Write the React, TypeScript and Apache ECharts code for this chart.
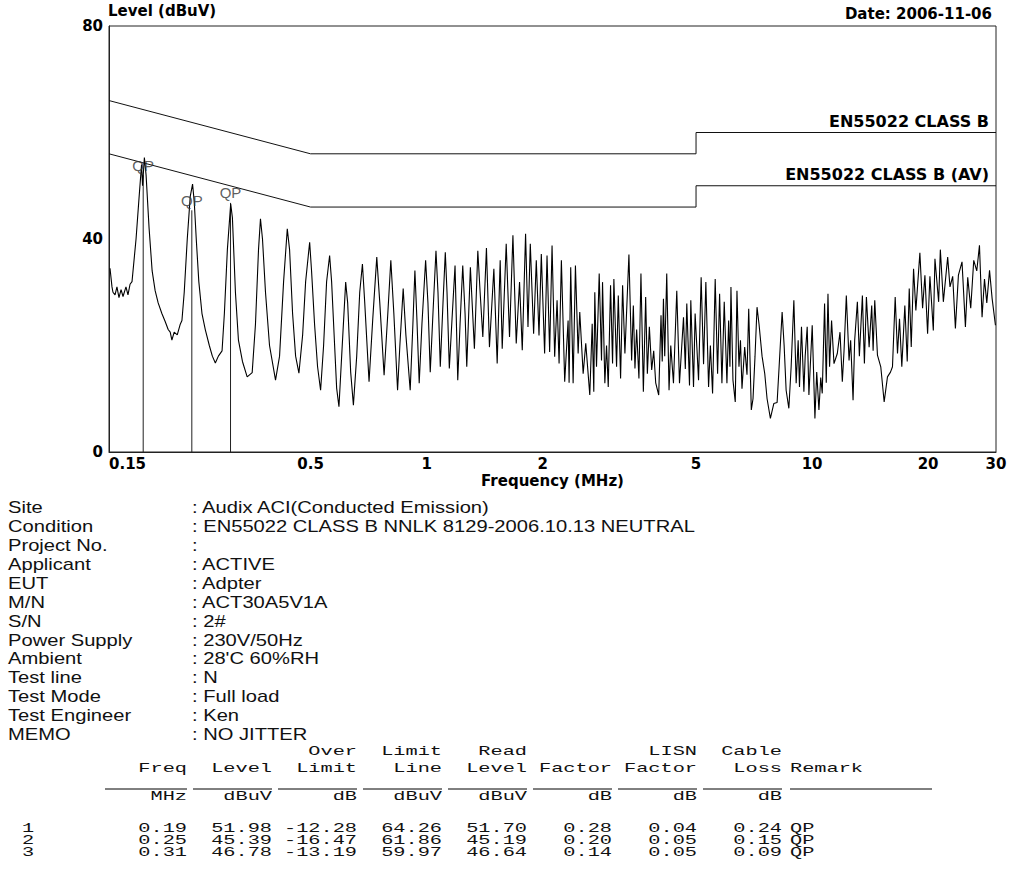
import React, { useEffect, useRef } from "react";
import * as echarts from "echarts";

// ---- measured trace (frequency MHz, level dBuV) ----
const traceFreq = [
  0.1509, 0.1527, 0.1536, 0.1555, 0.1573, 0.1592, 0.1612, 0.1631, 0.166, 0.168, 0.1701, 0.1721,
  0.1763, 0.1796, 0.1822, 0.1833, 0.1853, 0.1872, 0.1906, 0.1941, 0.1976, 0.2012, 0.2057, 0.2098,
  0.2136, 0.2162, 0.2184, 0.2214, 0.2255, 0.2296, 0.2319, 0.2351, 0.2394, 0.2437, 0.2471, 0.2496,
  0.2526, 0.2565, 0.2614, 0.2666, 0.2731, 0.2781, 0.2831, 0.2883, 0.2947, 0.2988, 0.3042, 0.3103,
  0.3135, 0.3192, 0.325, 0.3329, 0.3424, 0.3528, 0.3598, 0.3664, 0.3707, 0.3752, 0.382, 0.3913,
  0.4056, 0.4155, 0.4256, 0.4351, 0.4411, 0.4491, 0.4573, 0.4664, 0.4769, 0.4855, 0.4973, 0.503,
  0.5121, 0.5214, 0.5309, 0.5405, 0.5503, 0.5603, 0.567, 0.5773, 0.5843, 0.5924, 0.6021, 0.6167,
  0.6241, 0.6354, 0.6458, 0.6587, 0.6707, 0.6816, 0.6911, 0.7091, 0.725, 0.7426, 0.7561, 0.7758,
  0.7932, 0.8076, 0.8223, 0.8408, 0.8524, 0.8695, 0.8836, 0.9067, 0.9214, 0.9325, 0.9437, 0.9568,
  0.9725, 0.9942, 1.0081, 1.022, 1.0387, 1.0576, 1.0704, 1.0852, 1.1029, 1.1182, 1.1297, 1.1454,
  1.1641, 1.1852, 1.2045, 1.2212, 1.241, 1.2583, 1.2711, 1.2989, 1.3305, 1.3579, 1.3767, 1.3991,
  1.4297, 1.4556, 1.4945, 1.5244, 1.552, 1.5708, 1.6089, 1.641, 1.6747, 1.7082, 1.7423, 1.7708,
  1.8062, 1.8324, 1.8578, 1.8951, 1.9256, 1.957, 1.9842, 2.0238, 2.0531, 2.0854, 2.1157, 2.149,
  2.18, 2.2064, 2.2369, 2.2816, 2.3286, 2.3425, 2.3651, 2.3995, 2.4327, 2.4724, 2.4964, 2.5476,
  2.5876, 2.6506, 2.6888, 2.7148, 2.7311, 2.7591, 2.8039, 2.8431, 2.8602, 2.9, 2.9296, 2.9595,
  3.0006, 3.0368, 3.0607, 3.1105, 3.1425, 3.186, 3.2245, 3.2693, 3.3486, 3.4032, 3.438, 3.4712,
  3.5064, 3.5551, 3.5979, 3.6502, 3.7008, 3.7385, 3.7834, 3.8363, 3.8826, 3.9294, 4.0007, 4.0562,
  4.0856, 4.1154, 4.1473, 4.1973, 4.2555, 4.2992, 4.3695, 4.4566, 4.5292, 4.6392, 4.6897, 4.7314,
  4.8085, 4.8462, 4.9254, 4.9727, 5.0754, 5.1549, 5.2296, 5.3021, 5.3886, 5.4473, 5.5194, 5.6062,
  5.687, 5.7557, 5.8359, 5.9173, 6.0134, 6.0751, 6.1225, 6.1593, 6.2336, 6.3202, 6.3846, 6.4616,
  6.52, 6.5788, 6.686, 6.779, 6.8488, 6.956, 7.0273, 7.112, 7.1977, 7.2845, 7.417, 7.5379,
  7.6426, 7.7953, 7.9562, 8.1148, 8.2127, 8.3616, 8.4624, 8.5645, 8.7042, 8.8245, 8.9688, 9.0932,
  9.2028, 9.2755, 9.3866, 9.5227, 9.597, 9.7128, 9.8122, 10.008, 10.171, 10.281, 10.418, 10.531,
  10.626, 10.775, 10.884, 10.996, 11.102, 11.235, 11.398, 11.626, 11.816, 11.98, 12.103, 12.27,
  12.471, 12.591, 12.774, 12.897, 13.107, 13.265, 13.506, 13.669, 13.834, 14.06, 14.28, 14.4,
  14.541, 14.777, 15.073, 15.382, 15.688, 15.973, 16.165, 16.429, 16.657, 16.858, 17.092, 17.403,
  17.654, 17.867, 18.082, 18.334, 18.588, 19.039, 19.35, 19.62, 19.938, 20.216, 20.631, 20.832,
  21.297, 21.515, 21.905, 22.478, 22.792, 23.162, 23.539, 23.967, 24.489, 24.991, 25.338, 25.798,
  26.266, 26.743, 27.179, 27.605, 28.006, 28.395, 28.864, 29.316, 29.9,
];
const traceLevel = [
  34.5, 31, 30, 29.5, 31, 29, 30.5, 29.2, 31, 29.5, 31.5, 32,
  40, 48, 54, 50, 55.3, 52, 42, 34, 30.3, 28, 26, 24.5,
  23, 22.5, 21, 22.5, 22, 24, 24.7, 30, 40, 48, 50.3, 47,
  40, 32, 26, 23, 20, 18, 16.7, 18, 19, 26, 38, 46.6,
  44, 30, 21, 17, 14.1, 14.9, 24, 38, 43.8, 40, 30, 20,
  13.5, 18, 32, 41.9, 38, 26, 18, 14.8, 22, 32, 39.4, 34,
  24, 16, 11.6, 20, 32, 36.9, 32, 20, 12, 8.5, 18, 31.9,
  28, 15, 8.8, 18, 30, 35.3, 28, 13.2, 25, 36.6, 28, 14.4,
  26, 36, 26, 11.6, 20, 30.7, 22, 11.6, 24, 34.1, 25, 12.9,
  24, 36, 28, 15, 26, 37.8, 30, 16, 28, 37.5, 30, 15.7,
  25, 35, 13.5, 24, 35, 26, 16, 34.7, 19.4, 37.8, 30, 21.6,
  38.3, 19.7, 34.4, 16.6, 36, 19.4, 39.1, 21.6, 40.7, 20.4, 31.9, 19.1,
  41, 23.5, 39.1, 22.2, 36, 21.9, 37.2, 18.5, 36.9, 18.8, 38.8, 17.9,
  28.5, 16.6, 36, 13.2, 24.7, 13, 34.7, 12.9, 35, 18.5, 26.3, 14.7,
  20.4, 10.7, 24.1, 11.3, 30, 16, 33.5, 17.2, 31.9, 12.9, 20, 12.2,
  31.3, 16.6, 32.5, 16, 29.4, 13.8, 31.3, 18.5, 37.1, 17.2, 27.5, 15.7,
  23, 13.8, 33.5, 11.3, 29.1, 14.7, 23.5, 15.4, 19, 13, 10.7, 25.7,
  17, 28.8, 18, 33.5, 11.6, 20, 12.9, 30.3, 12.9, 25.3, 15.6, 27.9,
  12.5, 28.5, 12.2, 26, 13.5, 32.8, 16.5, 31.9, 12.2, 20, 11, 32.5,
  14.7, 29.7, 12.9, 28.2, 12.9, 24.7, 16, 31, 13.5, 9.4, 30.3, 16,
  21, 11.9, 19.7, 14.5, 26.9, 7.9, 10, 18, 27.2, 24, 18, 14.7,
  10, 6.3, 9.1, 9.3, 16, 26.3, 20, 11.6, 8.2, 16, 28.5, 12.9,
  21, 12.2, 23.5, 11.3, 18, 23.5, 10.7, 23.8, 6.3, 15, 7.9, 14,
  11, 27.9, 13, 29.7, 16, 24.7, 16.6, 18.5, 22.5, 13.2, 19, 29.4,
  17.2, 21, 9.7, 21, 28.2, 18, 29.4, 16.6, 29.1, 19.7, 27.5, 19,
  28.5, 18.2, 16, 9.4, 14.1, 15, 16, 29.1, 18.5, 25, 16, 27.5,
  17, 30.7, 19.7, 34.4, 26.6, 37.4, 27, 33.2, 22.2, 33, 22.8, 36.3,
  28.2, 38, 28.2, 36.6, 31, 33, 23.2, 33.2, 35.7, 23.5, 32.8, 27,
  36, 34, 38.8, 25.3, 32.5, 28, 34.1, 28.8, 23.8,
];

// ---- limit lines ----
const limitFreq = [0.15, 0.5, 5, 5, 30];
const qpLimit = [66, 56, 56, 60, 60];
const avLimit = [56, 46, 46, 50, 50];
const qpLimitName = "EN55022 CLASS B";
const avLimitName = "EN55022 CLASS B (AV)";

// ---- final measurement markers ----
const markerFreq = [0.184, 0.246, 0.31];
const markerLevel = [51.98, 45.39, 46.78];
const markerRemark = ["QP", "QP", "QP"];

// ---- axes ----
const xTickValues = [0.15, 0.5, 1, 2, 5, 10, 20, 30];
const xTickLabels = ["0.15", "0.5", "1", "2", "5", "10", "20", "30"];
const yMin = 0;
const yMax = 80;
const yInterval = 40;
const xName = "Frequency (MHz)";
const yName = "Level (dBuV)";
const dateText = "Date: 2006-11-06";

// ---- report info ----
const infoLabels = [
  "Site", "Condition", "Project No.", "Applicant", "EUT", "M/N", "S/N",
  "Power Supply", "Ambient", "Test line", "Test Mode", "Test Engineer", "MEMO",
];
const infoValues = [
  "Audix ACI(Conducted Emission)",
  "EN55022 CLASS B NNLK 8129-2006.10.13 NEUTRAL",
  "",
  "ACTIVE",
  "Adpter",
  "ACT30A5V1A",
  "2#",
  "230V/50Hz",
  "28'C 60%RH",
  "N",
  "Full load",
  "Ken",
  "NO JITTER",
];

// ---- result table ----
const tableHead1 = ["", "", "Over", "Limit", "Read", "", "LISN", "Cable"];
const tableHead2 = ["Freq", "Level", "Limit", "Line", "Level", "Factor", "Factor", "Loss"];
const tableUnits = ["MHz", "dBuV", "dB", "dBuV", "dBuV", "dB", "dB", "dB"];
const remarkHead = "Remark";
const rowNumbers = ["1", "2", "3"];
const tableRows = [
  ["0.19", "51.98", "-12.28", "64.26", "51.70", "0.28", "0.04", "0.24"],
  ["0.25", "45.39", "-16.47", "61.86", "45.19", "0.20", "0.05", "0.15"],
  ["0.31", "46.78", "-13.19", "59.97", "46.64", "0.14", "0.05", "0.09"],
];
const tableRemarks = ["QP", "QP", "QP"];

export default function App() {
  const ref = useRef<HTMLDivElement>(null);

  useEffect(() => {
    if (!ref.current) return;
    const chart = echarts.init(ref.current, null, { renderer: "svg" });
    const lg = (f: number) => Math.log10(f);
    const axisFont = { fontFamily: "DejaVu Sans", fontWeight: "bold" as const, fontSize: 15, color: "#000" };

    const markerSeries = markerFreq.map((f, i) => ({
      type: "line",
      data: [[lg(f), 0], [lg(f), markerLevel[i]]],
      showSymbol: false,
      lineStyle: { color: "#222", width: 1 },
      silent: true,
      z: 3,
    }));

    chart.setOption({
      animation: false,
      grid: { left: 109, right: 14, top: 26, bottom: 421, show: true, borderColor: "#222", borderWidth: 1 },
      xAxis: {
        type: "value",
        min: lg(xTickValues[0]),
        max: lg(xTickValues[xTickValues.length - 1]),
        name: xName,
        nameLocation: "middle",
        nameGap: 21,
        nameTextStyle: { ...axisFont },
        axisLine: { show: true, onZero: false, lineStyle: { color: "#222", width: 1 } },
        axisTick: { show: false },
        splitLine: { show: false },
        axisLabel: {
          ...axisFont,
          margin: 4,
          customValues: xTickValues.map(lg),
          alignMinLabel: "left",
          formatter: (v: number) => {
            let best = 0;
            xTickValues.forEach((t, i) => {
              if (Math.abs(lg(t) - v) < Math.abs(lg(xTickValues[best]) - v)) best = i;
            });
            return xTickLabels[best];
          },
        },
      },
      yAxis: {
        type: "value",
        min: yMin,
        max: yMax,
        interval: yInterval,
        name: yName,
        nameLocation: "end",
        nameGap: 4,
        nameTextStyle: { ...axisFont, align: "left", padding: [0, 0, 0, -1] },
        axisLine: { show: true, onZero: false, lineStyle: { color: "#222", width: 1 } },
        axisTick: { show: false },
        splitLine: { show: false },
        axisLabel: { ...axisFont, margin: 6 },
      },
      series: [
        {
          type: "line",
          data: limitFreq.map((f, i) => [lg(f), qpLimit[i]]),
          showSymbol: false,
          lineStyle: { color: "#111", width: 1 },
          silent: true,
          z: 2,
        },
        {
          type: "line",
          data: limitFreq.map((f, i) => [lg(f), avLimit[i]]),
          showSymbol: false,
          lineStyle: { color: "#111", width: 1 },
          silent: true,
          z: 2,
        },
        {
          type: "line",
          data: traceFreq.map((f, i) => [lg(f), traceLevel[i]]),
          showSymbol: false,
          lineStyle: { color: "#000", width: 1.1 },
          silent: true,
          z: 4,
        },
        ...markerSeries,
        {
          type: "scatter",
          data: markerFreq.map((f, i) => [lg(f), markerLevel[i]]),
          symbolSize: 1,
          itemStyle: { color: "rgba(0,0,0,0)" },
          silent: true,
          z: 5,
          label: {
            show: true,
            position: "top",
            distance: 2,
            formatter: (p: any) => markerRemark[p.dataIndex],
            fontFamily: "Liberation Sans",
            fontSize: 15,
            color: "#333",
          },
        },
      ],
    });

    const graphics: any[] = [];
    const txt = (x: number, y: number, text: string, o: any = {}) => ({
      type: "text",
      x,
      y,
      scaleX: o.scaleX ?? 1,
      silent: true,
      style: {
        text,
        fill: o.fill ?? "#000",
        fontFamily: o.fontFamily ?? "Liberation Sans",
        fontSize: o.fontSize ?? 15,
        fontWeight: o.fontWeight ?? "normal",
        align: o.align ?? "left",
        verticalAlign: o.verticalAlign ?? "middle",
      },
    });

    // date
    graphics.push(txt(992, 14, dateText, { fontFamily: "DejaVu Sans", fontWeight: "bold", align: "right" }));

    // limit line names
    const pQ = chart.convertToPixel({ gridIndex: 0 }, [lg(limitFreq[4]), qpLimit[4]]) as number[];
    const pA = chart.convertToPixel({ gridIndex: 0 }, [lg(limitFreq[4]), avLimit[4]]) as number[];
    const limFont = { fontFamily: "DejaVu Sans", fontWeight: "bold", fontSize: 16, align: "right", verticalAlign: "bottom" };
    graphics.push(txt(pQ[0] - 7, pQ[1] - 3, qpLimitName, limFont));
    graphics.push(txt(pA[0] - 7, pA[1] - 3, avLimitName, limFont));

    // info block
    const infoTop = 508;
    const infoStep = 18.9;
    const infoFont = { fontSize: 16, scaleX: 1.26, fill: "#111" };
    infoLabels.forEach((l, i) => {
      graphics.push(txt(8, infoTop + i * infoStep, l, infoFont));
      graphics.push(txt(192, infoTop + i * infoStep, ": " + infoValues[i], infoFont));
    });

    // table
    const colEnds = [187, 272, 357, 442, 527, 612, 697, 782];
    const remarkX = 790;
    const monoFont = { fontFamily: "Liberation Mono", fontSize: 13, scaleX: 1.56, fill: "#111", align: "right" };
    const yH1 = 752, yH2 = 769, yLine = 789, yUnit = 797;
    const rowY = [829, 841, 853];
    colEnds.forEach((e, i) => {
      if (tableHead1[i]) graphics.push(txt(e, yH1, tableHead1[i], monoFont));
      graphics.push(txt(e, yH2, tableHead2[i], monoFont));
      graphics.push(txt(e, yUnit, tableUnits[i], monoFont));
      const start = i === 0 ? 105 : colEnds[i - 1] + 6;
      graphics.push({ type: "line", silent: true, shape: { x1: start, y1: yLine, x2: e, y2: yLine }, style: { stroke: "#000", lineWidth: 1 } });
    });
    graphics.push(txt(remarkX, yH2, remarkHead, { ...monoFont, align: "left" }));
    graphics.push({ type: "line", silent: true, shape: { x1: remarkX, y1: yLine, x2: 932, y2: yLine }, style: { stroke: "#000", lineWidth: 1 } });
    tableRows.forEach((row, r) => {
      graphics.push(txt(28, rowY[r], rowNumbers[r], { ...monoFont, align: "center" }));
      row.forEach((cell, i) => graphics.push(txt(colEnds[i], rowY[r], cell, monoFont)));
      graphics.push(txt(remarkX, rowY[r], tableRemarks[r], { ...monoFont, align: "left" }));
    });

    chart.setOption({ graphic: graphics });

    return () => chart.dispose();
  }, []);

  return (
    <div
      ref={ref}
      style={{ position: "absolute", left: 0, top: 0, width: 1010, height: 873, background: "#fff" }}
    />
  );
}
